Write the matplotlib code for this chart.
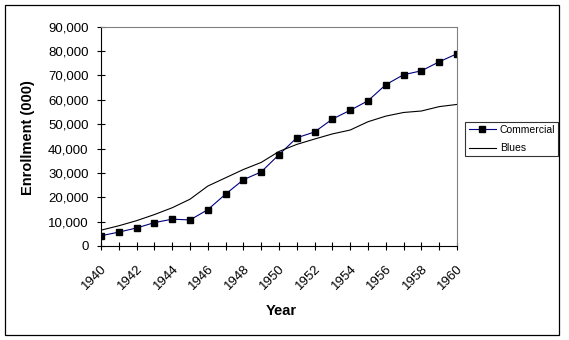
import matplotlib
matplotlib.use("Agg")
import matplotlib.pyplot as plt
from matplotlib.patches import Rectangle
from matplotlib.ticker import FuncFormatter

plt.rcParams['font.family'] = ['Liberation Sans', 'DejaVu Sans']

years = list(range(1940, 1961))
commercial = [4200, 5700, 7400, 9600, 11000, 10700, 14900, 21300, 27200, 30400,
              37500, 44400, 46800, 52100, 55700, 59600, 66200, 70300, 71900, 75600, 78900]
blues = [6500, 8300, 10400, 12900, 15700, 19200, 24600, 28000, 31400, 34300,
         38800, 41700, 43900, 46000, 47600, 51000, 53300, 54800, 55400, 57200, 58100]
xlabels = [str(y) if (y - 1940) % 2 == 0 else '' for y in years]

W, H = 569, 340
fig = plt.figure(figsize=(W / 100, H / 100), dpi=100)
ax = fig.add_axes([101 / W, (H - 246) / H, 356 / W, 219.3 / H])

idx = list(range(len(years)))
ax.plot(idx, commercial, color='#000080', lw=0.8, marker='s', markersize=4.8,
        markerfacecolor='black', markeredgecolor='black', label='Commercial')
ax.plot(idx, blues, color='black', lw=0.8, label='Blues')

ax.set_xlim(0, 20)
ax.set_ylim(0, 90000)
ax.set_yticks(range(0, 90001, 10000))
ax.yaxis.set_major_formatter(FuncFormatter(lambda v, p: f"{int(v):,}"))
ax.set_xticks(idx)
ax.set_xticklabels(xlabels, rotation=45, ha='right', va='top', rotation_mode='anchor')

ax.tick_params(axis='y', direction='inout', length=5.8, width=0.8, pad=6, labelsize=9.5, colors='black')
ax.tick_params(axis='x', direction='inout', length=5.8, width=0.8, pad=9, labelsize=9.5, colors='black')

for s in ['left', 'bottom']:
    ax.spines[s].set_color('black')
    ax.spines[s].set_linewidth(0.8)
for s in ['top', 'right']:
    ax.spines[s].set_color('#808080')
    ax.spines[s].set_linewidth(0.8)

fig.text(28 / W, 1 - 138 / H, 'Enrollment (000)', rotation=90, ha='center', va='center',
         fontsize=10.5, fontweight='bold')
fig.text(281 / W, 1 - 311 / H, 'Year', ha='center', va='center',
         fontsize=10.5, fontweight='bold')

leg = ax.legend(loc='center', bbox_to_anchor=(512 / W, 1 - 139 / H),
                bbox_transform=fig.transFigure, fancybox=False, frameon=True,
                edgecolor='black', fontsize=7.5, handlelength=2.6, borderpad=0.3,
                labelspacing=0.8, handletextpad=0.4, borderaxespad=0)
leg.get_frame().set_linewidth(0.8)

fig.patches.append(Rectangle((5 / W, 5 / H), 554 / W, 330 / H, transform=fig.transFigure,
                             fill=False, edgecolor='black', linewidth=0.9))

fig.savefig('out.png', dpi=100)
